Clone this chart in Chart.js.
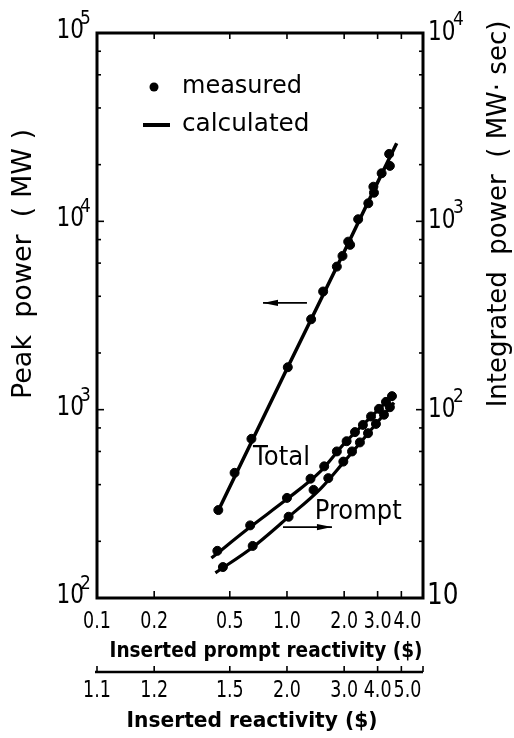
<!DOCTYPE html>
<html><head><meta charset="utf-8">
<script src="https://cdn.jsdelivr.net/npm/chart.js@4"></script>
<style>html,body{margin:0;padding:0;background:#fff;}#wrap{width:514px;height:738px;position:relative;}</style>
</head><body><div id="wrap"><canvas id="c" width="514" height="738"></canvas></div>
<script>
// ---- tick definitions ----
const promptTicks = [0.1, 0.2, 0.5, 1.0, 2.0, 3.0, 4.0];
const promptTickLabels = ['0.1', '0.2', '0.5', '1.0', '2.0', '3.0', '4.0'];
const reactivityTicks = [1.1, 1.2, 1.5, 2.0, 3.0, 4.0, 5.0];
const reactivityTickLabels = ['1.1', '1.2', '1.5', '2.0', '3.0', '4.0', '5.0'];
const peakDecades = [2, 3, 4, 5];        // 10^2 .. 10^5 MW
const integratedDecades = [1, 2, 3, 4];  // 10 .. 10^4 MW·sec
const minorMultipliers = [2, 4, 6, 8];

// ---- Peak power (left axis) ----
const peakMeasX = [0.435, 0.53, 0.65, 1.01, 1.34, 1.55, 1.83, 1.96, 2.10, 2.15, 2.37, 2.68, 2.85, 2.87, 3.15, 3.45, 3.48];
const peakMeasY = [293, 462, 700, 1680, 3020, 4240, 5750, 6550, 7800, 7500, 10260, 12470, 15270, 14190, 18000, 22800, 19700];
const peakCalcX = [0.434, 1.0, 2.0, 3.0, 3.78];
const peakCalcY = [290, 1650, 6900, 16100, 26000];

// ---- Integrated power, Total (right axis) ----
const totalMeasX = [0.43, 0.64, 1.0, 1.33, 1.57, 1.83, 2.06, 2.28, 2.51, 2.77, 3.05, 3.32, 3.57];
const totalMeasY = [17.8, 24.3, 34, 43, 50, 60, 68, 76, 83, 92, 101, 110, 118];
const totalCalcX = [0.40, 0.64, 1.0, 1.5, 2.0, 3.0, 3.66];
const totalCalcY = [16.3, 23.8, 33.5, 47, 66, 99, 121];

// ---- Integrated power, Prompt (right axis) ----
const promptMeasX = [0.46, 0.66, 1.02, 1.38, 1.65, 1.98, 2.20, 2.42, 2.67, 2.94, 3.24, 3.48];
const promptMeasY = [14.6, 18.9, 27, 37.5, 43.3, 53, 60, 67, 75, 84, 94, 103];
const promptCalcX = [0.42, 0.66, 1.0, 1.5, 2.0, 3.0, 3.66];
const promptCalcY = [13.6, 18.6, 26.5, 38, 53, 86, 109];

const pts = (xs, ys) => xs.map((x, i) => ({x: x, y: ys[i]}));
const FONT = '"DejaVu Sans", "Liberation Sans", sans-serif';

function measDs(label, data, axis) {
  return {label, data, yAxisID: axis, showLine: false, pointRadius: 4.5, pointHoverRadius: 4.5,
    pointBackgroundColor: '#000', pointBorderColor: '#000', borderColor: '#000', backgroundColor: '#000'};
}
function calcDs(label, data, axis, w) {
  return {label, data, yAxisID: axis, showLine: true, pointRadius: 0, borderWidth: w,
    borderColor: '#000', backgroundColor: '#000', tension: 0.2, cubicInterpolationMode: 'monotone'};
}

function drawScaled(ctx, text, x, y, font, sx, align, baseline) {
  ctx.save();
  ctx.font = font;
  ctx.textAlign = align || 'left';
  ctx.textBaseline = baseline || 'alphabetic';
  ctx.translate(x, y);
  ctx.scale(sx, 1);
  ctx.fillText(text, 0, 0);
  ctx.restore();
}
function fitWidth(ctx, text, font, target) {
  ctx.save(); ctx.font = font; const w = ctx.measureText(text).width; ctx.restore();
  return target / w;
}
function drawTickRow(ctx, labels, centers, y, font, sx) {
  ctx.save(); ctx.font = font;
  let prevRight = -1e9;
  labels.forEach((t, i) => {
    const w = ctx.measureText(t).width * sx;
    const c = Math.max(centers[i], prevRight + 2 + w / 2);
    drawScaled(ctx, t, c, y, font, sx, 'center', 'middle');
    prevRight = c + w / 2;
  });
  ctx.restore();
}
function arrow(ctx, x1, y1, x2, y2) {
  ctx.save();
  ctx.lineWidth = 1.6;
  ctx.beginPath(); ctx.moveTo(x1, y1); ctx.lineTo(x2, y2); ctx.stroke();
  const dir = Math.sign(x2 - x1);
  ctx.beginPath();
  ctx.moveTo(x2, y2);
  ctx.lineTo(x2 - dir * 15, y2 - 3.2);
  ctx.lineTo(x2 - dir * 15, y2 + 3.2);
  ctx.closePath(); ctx.fill();
  ctx.restore();
}

const decor = {
  id: 'decor',
  afterDraw(chart) {
    const ctx = chart.ctx;
    const {left, right, top, bottom} = chart.chartArea;
    const xs = chart.scales.x, ys = chart.scales.y, y2 = chart.scales.y2;
    ctx.save();
    ctx.strokeStyle = '#000'; ctx.fillStyle = '#000';
    // frame
    ctx.lineWidth = 3;
    ctx.strokeRect(left, top, right - left, bottom - top);
    // x ticks (inward, top and bottom)
    ctx.lineWidth = 1.6;
    promptTicks.forEach(v => {
      const px = xs.getPixelForValue(v);
      if (px <= left + 1) return;
      ctx.beginPath(); ctx.moveTo(px, bottom); ctx.lineTo(px, bottom - 7); ctx.stroke();
      ctx.beginPath(); ctx.moveTo(px, top); ctx.lineTo(px, top + 6); ctx.stroke();
    });
    // y ticks left
    peakDecades.forEach(d => {
      const py = ys.getPixelForValue(Math.pow(10, d));
      if (py > top + 1 && py < bottom - 1) {
        ctx.beginPath(); ctx.moveTo(left, py); ctx.lineTo(left + 7, py); ctx.stroke();
      }
      if (d < 5) minorMultipliers.forEach(m => {
        const q = ys.getPixelForValue(m * Math.pow(10, d));
        ctx.beginPath(); ctx.moveTo(left, q); ctx.lineTo(left + 4, q); ctx.stroke();
      });
    });
    // y ticks right
    integratedDecades.forEach(d => {
      const py = y2.getPixelForValue(Math.pow(10, d));
      if (py > top + 1 && py < bottom - 1) {
        ctx.beginPath(); ctx.moveTo(right, py); ctx.lineTo(right - 7, py); ctx.stroke();
      }
      if (d < 4) minorMultipliers.forEach(m => {
        const q = y2.getPixelForValue(m * Math.pow(10, d));
        ctx.beginPath(); ctx.moveTo(right, q); ctx.lineTo(right - 4, q); ctx.stroke();
      });
    });

    // left y labels
    peakDecades.forEach(d => {
      const py = ys.getPixelForValue(Math.pow(10, d));
      drawScaled(ctx, '10', left - 13, py - 2, '27px ' + FONT, 0.8, 'right', 'middle');
      drawScaled(ctx, String(d), left - 17, py - 9, '20px ' + FONT, 0.85, 'left', 'alphabetic');
    });
    // right y labels
    integratedDecades.forEach(d => {
      const py = y2.getPixelForValue(Math.pow(10, d));
      if (d === 1) {
        drawScaled(ctx, '10', right + 4, py - 2, '31px ' + FONT, 0.8, 'left', 'middle');
      } else {
        drawScaled(ctx, '10', right + 5, py, '27px ' + FONT, 0.8, 'left', 'middle');
        drawScaled(ctx, String(d), right + 30, py - 8, '20px ' + FONT, 0.85, 'left', 'alphabetic');
      }
    });

    // bottom tick labels (prompt reactivity)
    drawTickRow(ctx, promptTickLabels, promptTicks.map(v => xs.getPixelForValue(v)), 622, '23px ' + FONT, 0.76);
    // title 1
    const t1 = 'Inserted prompt reactivity ($)';
    const f1 = 'bold 21px ' + FONT;
    drawScaled(ctx, t1, 266, 652, f1, fitWidth(ctx, t1, f1, 313), 'center', 'middle');

    // second axis (inserted reactivity = prompt + 1)
    const ay = 672;
    ctx.lineWidth = 2.6;
    ctx.beginPath(); ctx.moveTo(left - 2, ay); ctx.lineTo(right, ay); ctx.stroke();
    ctx.lineWidth = 1.6;
    const rPx = reactivityTicks.map(r => xs.getPixelForValue(r - 1));
    rPx.concat([right]).forEach(px => {
      ctx.beginPath(); ctx.moveTo(px, ay); ctx.lineTo(px, ay - 6); ctx.stroke();
    });
    drawTickRow(ctx, reactivityTickLabels, rPx, 691, '23px ' + FONT, 0.76);
    const t2 = 'Inserted reactivity ($)';
    drawScaled(ctx, t2, 252, 722, f1, fitWidth(ctx, t2, f1, 251), 'center', 'middle');

    // axis titles (rotated)
    ctx.save();
    ctx.translate(24, 264); ctx.rotate(-Math.PI / 2);
    ctx.font = '27px ' + FONT; ctx.textAlign = 'center'; ctx.textBaseline = 'middle';
    ctx.fillText('Peak  power  ( MW )', 0, 0);
    ctx.restore();
    ctx.save();
    ctx.translate(499, 214); ctx.rotate(-Math.PI / 2);
    ctx.font = '26px ' + FONT; ctx.textAlign = 'center'; ctx.textBaseline = 'middle';
    ctx.fillText('Integrated  power  ( MW· sec)', 0, 0);
    ctx.restore();

    // legend
    ctx.beginPath(); ctx.arc(left + 57, top + 54, 4.5, 0, Math.PI * 2); ctx.fill();
    ctx.lineWidth = 4;
    ctx.beginPath(); ctx.moveTo(left + 46, top + 92); ctx.lineTo(left + 73, top + 92); ctx.stroke();
    drawScaled(ctx, 'measured', left + 85, top + 60, '24px ' + FONT, 1, 'left', 'alphabetic');
    drawScaled(ctx, 'calculated', left + 85, top + 98, '24px ' + FONT, 1.03, 'left', 'alphabetic');

    // annotations placed in data coordinates
    const tf = '27px ' + FONT;
    drawScaled(ctx, 'Total', xs.getPixelForValue(0.662), y2.getPixelForValue(50.8), tf, fitWidth(ctx, 'Total', tf, 57), 'left', 'alphabetic');
    drawScaled(ctx, 'Prompt', xs.getPixelForValue(1.40), y2.getPixelForValue(26.3), tf, fitWidth(ctx, 'Prompt', tf, 87), 'left', 'alphabetic');
    arrow(ctx, xs.getPixelForValue(1.274), ys.getPixelForValue(3690), xs.getPixelForValue(0.748), ys.getPixelForValue(3690));
    arrow(ctx, xs.getPixelForValue(0.953), y2.getPixelForValue(23.8), xs.getPixelForValue(1.725), y2.getPixelForValue(23.8));
    ctx.restore();
  }
};

new Chart(document.getElementById('c'), {
  type: 'scatter',
  data: {
    datasets: [
      calcDs('Peak power calculated', pts(peakCalcX, peakCalcY), 'y', 3.5),
      measDs('Peak power measured', pts(peakMeasX, peakMeasY), 'y'),
      calcDs('Integrated total calculated', pts(totalCalcX, totalCalcY), 'y2', 3.2),
      measDs('Integrated total measured', pts(totalMeasX, totalMeasY), 'y2'),
      calcDs('Integrated prompt calculated', pts(promptCalcX, promptCalcY), 'y2', 3.2),
      measDs('Integrated prompt measured', pts(promptMeasX, promptMeasY), 'y2')
    ]
  },
  options: {
    responsive: false, animation: false, devicePixelRatio: 1,
    layout: {padding: {left: 97, right: 91, top: 33, bottom: 140}},
    plugins: {legend: {display: false}, tooltip: {enabled: false}},
    scales: {
      x: {type: 'logarithmic', min: 0.1, max: 5.2, display: false},
      y: {type: 'logarithmic', position: 'left', min: 100, max: 100000, display: false},
      y2: {type: 'logarithmic', position: 'right', min: 10, max: 10000, display: false}
    }
  },
  plugins: [decor]
});
</script>
</body></html>
